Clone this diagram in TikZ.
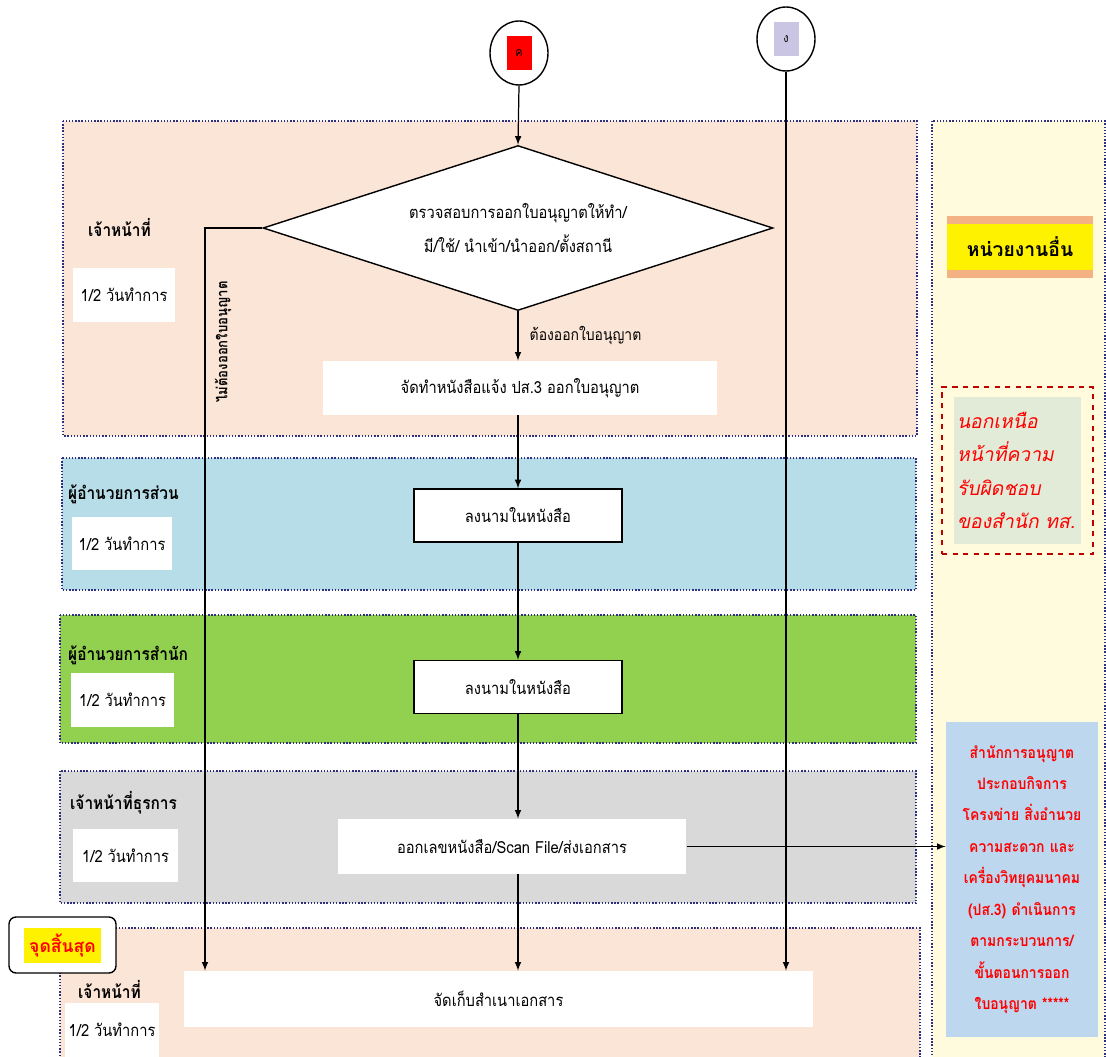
\documentclass[tikz,border=0pt]{standalone}
\usepackage{fontspec}
\setmainfont[Script=Thai,FakeStretch=0.88]{Loma}
\newfontfamily\thaiit[Script=Thai,FakeSlant=0.2]{Loma}
\newfontfamily\thaiwide[Script=Thai]{Loma}
\usetikzlibrary{shapes,arrows,positioning,fit,calc}

\definecolor{peach}{HTML}{FBE5D6}
\definecolor{cream}{HTML}{FFFBDC}
\definecolor{skyblue}{HTML}{B7DEE8}
\definecolor{leaf}{HTML}{92D050}
\definecolor{stone}{HTML}{D9D9D9}
\definecolor{navy}{HTML}{2F2F80}
\definecolor{band}{HTML}{F4B183}
\definecolor{sage}{HTML}{E2EBD8}
\definecolor{paleblue}{HTML}{BDD7EE}
\definecolor{lilac}{HTML}{C9C5E2}

\begin{document}
\begin{tikzpicture}[x=0.02cm, y=-0.02cm,
    lane/.style={draw=navy, densely dotted, line width=0.8pt},
    flow/.style={draw, -latex, line width=0.7pt},
    task/.style={rectangle, fill=white, inner sep=0pt, font=\fontsize{9.5}{12}\selectfont},
    signbox/.style={task, draw, line width=0.8pt, minimum width=4.16cm, minimum height=1.06cm},
    who/.style={anchor=west, font=\bfseries\fontsize{10}{12}\selectfont},
    days/.style={rectangle, fill=white, inner sep=0pt, minimum width=2.06cm, minimum height=1.08cm, font=\fontsize{9.5}{12}\selectfont},
    conn/.style={ellipse, draw, line width=0.8pt, fill=white, minimum width=1.16cm, minimum height=1.28cm},
    tag/.style={inner sep=0pt, minimum width=0.5cm, minimum height=0.68cm, font=\fontsize{7}{8}\selectfont}]

    \clip (0,0) rectangle (1106,1057);
    \fill[white] (0,0) rectangle (1106,1057);

    % swim lanes
    \draw[lane, fill=peach] (63,121) rectangle (917,436);
    \draw[lane, fill=skyblue] (62,458) rectangle (916,590);
    \draw[lane, fill=leaf] (60,615) rectangle (916,743);
    \draw[lane, fill=stone] (60,771) rectangle (916,903);
    \draw[lane, fill=peach] (60,928) rectangle (920,1080);
    \draw[lane, fill=cream] (932,121) rectangle (1105,1080);

    % who and how long
    \node (who1) [who] at (82,228) {เจ้าหน้าที่};
    \node (days1) [days] at (124,295) {1/2 วันทำการ};
    \node (who2) [who] at (62,494) {ผู้อำนวยการส่วน};
    \node (days2) [days, minimum width=2cm] at (122,543.5) {1/2 วันทำการ};
    \node (who3) [who] at (62,655) {ผู้อำนวยการสำนัก};
    \node (days3) [days] at (122.5,700) {1/2 วันทำการ};
    \node (who4) [who] at (64,803) {เจ้าหน้าที่ธุรการ};
    \node (days4) [days, minimum width=2.1cm] at (125.5,855.5) {1/2 วันทำการ};
    \node (who5) [who] at (72,990) {เจ้าหน้าที่};
    \node (days5) [days, minimum width=1.9cm] at (112,1030) {1/2 วันทำการ};

    % connectors
    \node (cA) [conn] at (519,53) {};
    \node (cAtag) [tag, fill=red] at (cA) {ค};
    \node (cB) [conn] at (786,39) {};
    \node (cBtag) [tag, fill=lilac] at (cB) {ง};

    % steps
    \node (check) [diamond, draw, fill=white, line width=0.8pt, aspect=3.09, minimum width=10.2cm, minimum height=3.3cm, inner sep=0pt, align=center, font=\fontsize{9.5}{19}\selectfont] at (518,228) {ตรวจสอบการออกใบอนุญาตให้ทำ/\\มี/ใช้/ นำเข้า/นำออก/ตั้งสถานี};
    \node (mkdoc) [task, minimum width=7.88cm, minimum height=1.08cm] at (520,388) {จัดทำหนังสือแจ้ง ปส.3 ออกใบอนุญาต};
    \node (sign1) [signbox] at (518,515.5) {ลงนามในหนังสือ};
    \node (sign2) [signbox] at (518,687) {ลงนามในหนังสือ};
    \node (issue) [task, minimum width=6.98cm, minimum height=1.1cm] at (512,846.5) {ออกเลขหนังสือ/Scan File/ส่งเอกสาร};
    \node (store) [task, minimum width=12.58cm, minimum height=1.12cm] at (498.5,999) {จัดเก็บสำเนาเอกสาร};

    % other unit
    \node (other) [fill=band, inner sep=0pt, minimum width=2.92cm, minimum height=1.24cm] at (1020,247) {};
    \node (otherlbl) [fill=yellow, inner sep=0pt, minimum width=2.92cm, minimum height=0.92cm, font=\thaiwide\bfseries\fontsize{11}{13}\selectfont] at (other) {หน่วยงานอื่น};
    \node (scope) [draw=red!75!black, dashed, line width=1pt, minimum width=3.02cm, minimum height=3.34cm] at (1017.5,470.5) {};
    \node (scopetxt) [fill=sage, inner xsep=0.06cm, inner ysep=0pt, text width=2.42cm, minimum height=2.96cm, align=left, text=red, font=\thaiit\fontsize{11}{19}\selectfont] at (scope) {นอกเหนือ\\หน้าที่ความ\\รับผิดชอบ\\ของสำนัก ทส.};
    \node (licoff) [fill=paleblue, inner xsep=0.07cm, inner ysep=0pt, text width=2.9cm, minimum height=6.3cm, align=center, text=red, font=\bfseries\fontsize{9}{17.9}\selectfont] at (1022,879.5) {สำนักการอนุญาต\\ประกอบกิจการ\\โครงข่าย สิ่งอำนวย\\ความสะดวก และ\\เครื่องวิทยุคมนาคม\\(ปส.3) ดำเนินการ\\ตามกระบวนการ/\\ขั้นตอนการออก\\ใบอนุญาต *****};

    % end marker
    \node (endbox) [draw, rounded corners=4pt, fill=white, line width=0.8pt, minimum width=2.14cm, minimum height=1.12cm] at (62.5,945) {};
    \node (endlbl) [fill=yellow, inner sep=0pt, minimum width=1.56cm, minimum height=0.7cm, text=red, font=\thaiwide\bfseries\fontsize{10}{12}\selectfont] at (endbox) {จุดสิ้นสุด};

    % flow
    \coordinate (nobend) at (205,228);
    \draw[flow] (cA.south) -- (check.north);
    \draw[flow] (check.south) -- node (yeslbl) [right=3pt, font=\fontsize{9}{10}\selectfont] {ต้องออกใบอนุญาต} (mkdoc.north -| check.south);
    \draw[flow] (mkdoc.south -| check.south) -- (sign1.north);
    \draw[flow] (sign1.south) -- (sign2.north);
    \draw[flow] (sign2.south) -- (sign2.south |- issue.north);
    \draw[flow] (sign2.south |- issue.south) -- (sign2.south |- store.north);
    \draw[flow] (check.west) -- (nobend) -- (nobend |- store.north);
    \node (nolbl) [rotate=90, font=\bfseries\fontsize{8.5}{10}\selectfont] at (223,342) {ไม่ต้องออกใบอนุญาต};
    \draw[flow] (cB.south) -- (cB.south |- store.north);
    \draw[flow] (issue.east) -- (issue.east -| licoff.west);
\end{tikzpicture}
\end{document}
